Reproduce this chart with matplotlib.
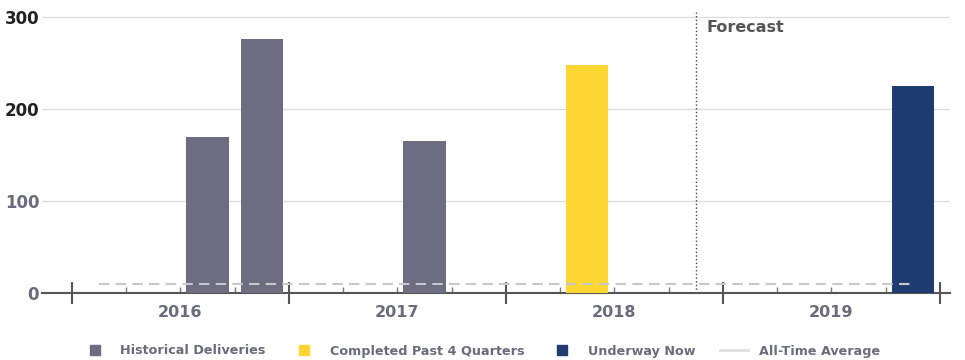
import numpy as np
import matplotlib.pyplot as plt
from matplotlib.lines import Line2D
from matplotlib.transforms import blended_transform_factory

quarters = ['2016 Q1', '2016 Q2', '2016 Q3', '2016 Q4',
            '2017 Q1', '2017 Q2', '2017 Q3', '2017 Q4',
            '2018 Q1', '2018 Q2', '2018 Q3', '2018 Q4',
            '2019 Q1', '2019 Q2', '2019 Q3', '2019 Q4']
years = ['2016', '2017', '2018', '2019']
historical = [0, 0, 170, 276, 0, 0, 165, 0, 0, 0, 0, 0, 0, 0, 0, 0]
completed = [0, 0, 0, 0, 0, 0, 0, 0, 0, 248, 0, 0, 0, 0, 0, 0]
underway = [0, 0, 0, 0, 0, 0, 0, 0, 0, 0, 0, 0, 0, 0, 0, 225]
average = [10] * 16
forecast_start = '2018 Q4'

c_hist = '#6d6d82'
c_comp = '#fdd632'
c_under = '#203b70'
c_avg = '#c8c8cc'
c_text = '#6b6b7d'

fig = plt.figure(figsize=(9.65, 3.6), dpi=100)
ax = fig.add_axes([0.0435, 0.186, 0.9405, 0.78])

x = np.arange(len(quarters)) + 0.5
w = 0.78
ax.bar(x, historical, width=w, color=c_hist, zorder=3)
ax.bar(x, completed, width=w, color=c_comp, zorder=3)
ax.bar(x, underway, width=w, color=c_under, zorder=3)
ax.plot(x, average, color=c_avg, lw=1.5, dashes=(5, 3), zorder=4)

fx = x[quarters.index(forecast_start)]
ax.axvline(fx, color='#444444', lw=1, ls=':', zorder=2)
ax.text(fx + 0.2, 297, 'Forecast', fontsize=11.5, fontweight='bold',
        color='#555555', va='top', ha='left')

ax.set_xlim(-0.553, 16.18)
ax.set_ylim(0, 305)
ax.set_yticks([0, 100, 200, 300])
ax.yaxis.grid(True, color='#dddddd', lw=1, zorder=0)
ax.set_axisbelow(True)

for s in ['top', 'right', 'left']:
    ax.spines[s].set_visible(False)
ax.spines['bottom'].set_color('#555555')
ax.spines['bottom'].set_linewidth(1.5)

ax.set_xticks(np.arange(0, 17, 4))
ax.set_xticks(np.arange(0, 17, 1), minor=True)
ax.set_xticklabels([])
ax.tick_params(axis='x', which='major', direction='inout', length=16,
               width=1.5, color='#555555')
ax.tick_params(axis='x', which='minor', direction='in', length=4,
               width=1, color='#777777')
ax.tick_params(axis='y', length=0, pad=2)

for lbl, col in zip(ax.get_yticklabels(), ['#6b6b7d', '#6b6b7d', '#222222', '#222222']):
    lbl.set_fontsize(12)
    lbl.set_fontweight('bold')
    lbl.set_color(col)

trans = blended_transform_factory(ax.transData, ax.transAxes)
for i, yr in enumerate(years):
    ax.text(i * 4 + 2, -0.07, yr, transform=trans, ha='center', va='center',
            fontsize=11.5, fontweight='bold', color=c_text)

handles = [
    Line2D([], [], ls='none', marker='s', ms=6.5, color=c_hist),
    Line2D([], [], ls='none', marker='s', ms=6.5, color=c_comp),
    Line2D([], [], ls='none', marker='s', ms=6.5, color=c_under),
    Line2D([], [], color='#e0e0e4', lw=2),
]
labels = ['Historical Deliveries', 'Completed Past 4 Quarters',
          'Underway Now', 'All-Time Average']
leg = fig.legend(handles, labels, loc='lower center', ncol=4, frameon=False,
                 bbox_to_anchor=(0.498, -0.025), handlelength=2.2,
                 columnspacing=1.9, handletextpad=0.9,
                 prop={'size': 9.2, 'weight': 'bold'})
for t in leg.get_texts():
    t.set_color(c_text)

fig.savefig('out.png', dpi=100)
